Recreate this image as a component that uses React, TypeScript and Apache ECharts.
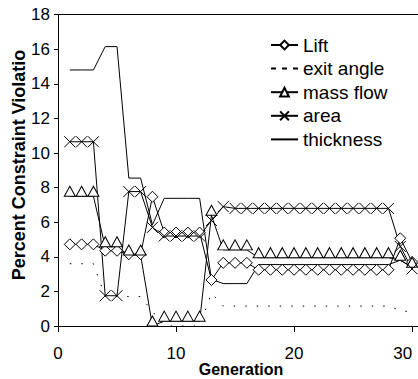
import React, { useEffect, useRef } from 'react';
import * as echarts from 'echarts';

const generations = [1, 2, 3, 4, 5, 6, 7, 8, 9, 10, 11, 12, 13, 14, 15, 16, 17, 18, 19, 20, 21, 22, 23, 24, 25, 26, 27, 28, 29, 30];

const lift = [4.72, 4.72, 4.72, 4.35, 4.35, 4.15, 4.15, 7.47, 5.4, 5.4, 5.4, 5.4, 2.66, 3.65, 3.65, 3.65, 3.25, 3.25, 3.25, 3.25, 3.25, 3.25, 3.25, 3.25, 3.25, 3.25, 3.25, 3.25, 5.07, 3.7];
const exitAngle = [3.6, 3.6, 3.6, 1.7, 1.7, 1.7, 1.7, 0.85, 0, 0, 0, 0, 1.9, 1.15, 1.15, 1.15, 1.15, 1.15, 1.15, 1.15, 1.15, 1.15, 1.15, 1.15, 1.15, 1.15, 1.15, 1.15, 0.9, 0.8];
const massFlow = [7.5, 7.5, 7.5, 4.58, 4.58, 4.1, 4.1, 0, 0.28, 0.28, 0.28, 0.28, 6.4, 4.4, 4.4, 4.4, 3.95, 3.95, 3.95, 3.95, 3.95, 3.95, 3.95, 3.95, 3.95, 3.95, 3.95, 3.95, 3.8, 3.4];
const area = [10.65, 10.65, 10.65, 1.75, 1.75, 7.77, 7.77, 5.7, 5.2, 5.2, 5.2, 5.2, 6.1, 6.9, 6.8, 6.8, 6.8, 6.8, 6.8, 6.8, 6.8, 6.8, 6.8, 6.8, 6.8, 6.8, 6.8, 6.8, 4.6, 3.3];
const thickness = [14.8, 14.8, 14.8, 16.15, 16.15, 8.55, 8.55, 5.85, 7.38, 7.38, 7.38, 7.38, 2.7, 2.45, 2.45, 2.45, 3.55, 3.55, 3.55, 3.55, 3.55, 3.55, 3.55, 3.55, 3.55, 3.55, 3.55, 3.55, 3.8, 3.4];

const xTicks = [0, 10, 20, 30];
const seriesNames = ['Lift', 'exit angle', 'mass flow', 'area', 'thickness'];
const xTitle = 'Generation';
const yTitle = 'Percent Constraint Violatio';

export default function App() {
  const ref = useRef<HTMLDivElement>(null);
  useEffect(() => {
    const chart = echarts.init(ref.current!, null, { renderer: 'svg' });
    const font = 'Liberation Sans';
    const pts = (arr: number[]) => generations.map((g, i) => [g, arr[i]]);
    const hidden = { color: 'rgba(0,0,0,0)', borderColor: 'rgba(0,0,0,0)', borderWidth: 0 };
    const base = {
      type: 'line',
      xAxisIndex: 0,
      symbolSize: 11,
      lineStyle: { color: '#000', width: 1 },
      itemStyle: { color: '#fff', borderColor: '#000', borderWidth: 1 },
      emphasis: { disabled: true },
    };
    chart.setOption({
      animation: false,
      backgroundColor: '#fff',
      grid: { left: 58, right: 0, top: 14.6, bottom: 53, outerBoundsMode: 'none', containLabel: false },
      xAxis: [
        {
          type: 'value',
          min: 0,
          max: 30.5,
          axisLine: { lineStyle: { color: '#000', width: 1 } },
          axisTick: { customValues: xTicks, length: 6, lineStyle: { color: '#000' } },
          axisLabel: { customValues: xTicks, margin: 19, fontSize: 17, color: '#000', fontFamily: font, alignMaxLabel: 'right' },
          splitLine: { show: false },
        },
        {
          type: 'value',
          position: 'top',
          min: 0,
          max: 30.5,
          axisLine: { show: true, lineStyle: { color: '#000', width: 1 } },
          axisTick: { show: false },
          axisLabel: { show: false },
          splitLine: { show: false },
        },
      ],
      yAxis: {
        type: 'value',
        min: 0,
        max: 18,
        interval: 2,
        axisLine: { show: true, lineStyle: { color: '#000', width: 1 } },
        axisTick: { show: true, length: 4, lineStyle: { color: '#000' } },
        axisLabel: { fontSize: 17, color: '#000', margin: 8, fontFamily: font },
        splitLine: { show: false },
      },
      legend: {
        orient: 'vertical',
        left: 270,
        top: 35,
        padding: 0,
        itemWidth: 27,
        itemHeight: 11,
        itemGap: 3.6,
        textStyle: { fontFamily: font, fontSize: 19, color: '#000', lineHeight: 20 },
        data: [
          { name: seriesNames[0] },
          { name: seriesNames[1], lineStyle: { type: [5, 6] }, itemStyle: hidden },
          { name: seriesNames[2] },
          { name: seriesNames[3] },
          { name: seriesNames[4], itemStyle: hidden },
        ],
      },
      graphic: [
        {
          type: 'text',
          x: 19,
          y: 165,
          rotation: Math.PI / 2,
          style: {
            text: yTitle,
            font: 'bold 18px "Liberation Sans"',
            fill: '#000',
            align: 'center',
            verticalAlign: 'middle',
          },
        },
        {
          type: 'text',
          x: 241,
          y: 369,
          style: {
            text: xTitle,
            font: 'bold 16px "Liberation Sans"',
            fill: '#000',
            align: 'center',
            verticalAlign: 'middle',
          },
        },
      ],
      series: [
        { ...base, name: seriesNames[0], data: pts(lift), symbol: 'diamond' },
        { ...base, name: seriesNames[1], data: pts(exitAngle), symbol: 'none', lineStyle: { color: '#000', width: 1, type: [1.5, 10] } },
        { ...base, name: seriesNames[2], data: pts(massFlow), symbol: 'triangle', symbolSize: [11, 10], symbolOffset: [0, -5] },
        { ...base, name: seriesNames[3], data: pts(area), symbol: 'path://M0,0L10,10M10,0L0,10' },
        { ...base, name: seriesNames[4], data: pts(thickness), symbol: 'none' },
      ],
    });
    return () => chart.dispose();
  }, []);
  return <div ref={ref} style={{ position: 'fixed', left: 0, top: 0, width: 418, height: 379, background: '#fff' }} />;
}
